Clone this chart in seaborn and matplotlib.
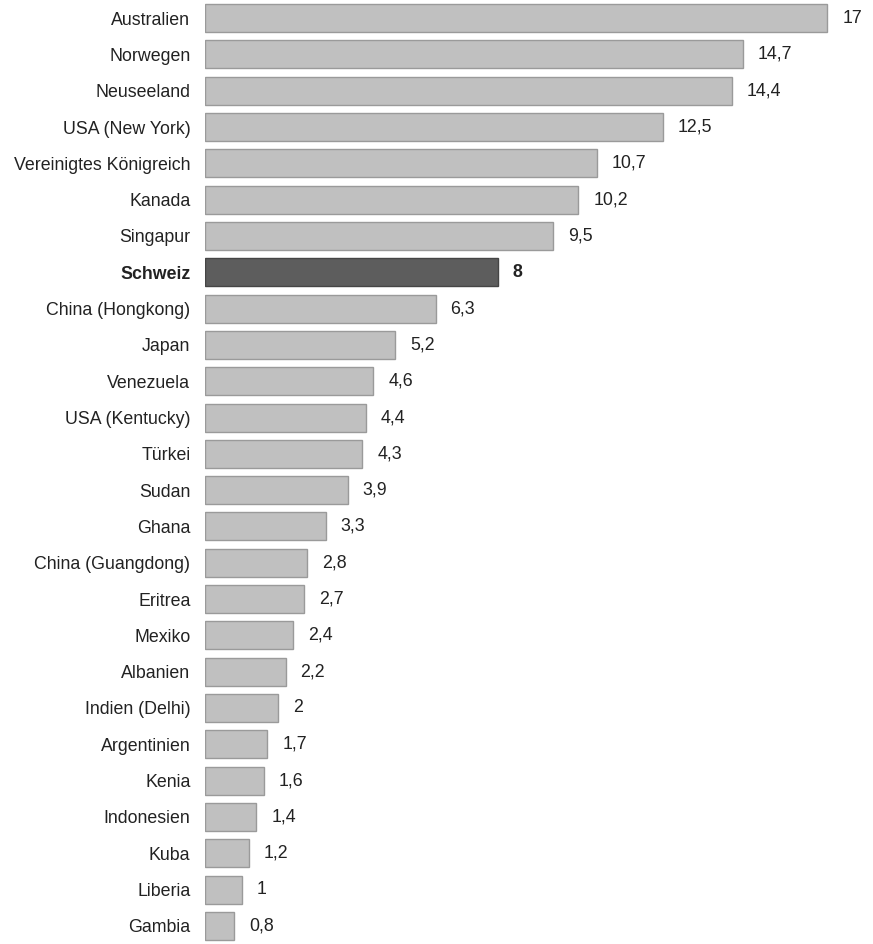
import matplotlib
matplotlib.use("Agg")
import matplotlib.pyplot as plt
import seaborn as sns
import pandas as pd

countries = ["Australien", "Norwegen", "Neuseeland", "USA (New York)", "Vereinigtes Königreich",
             "Kanada", "Singapur", "Schweiz", "China (Hongkong)", "Japan", "Venezuela",
             "USA (Kentucky)", "Türkei", "Sudan", "Ghana", "China (Guangdong)", "Eritrea",
             "Mexiko", "Albanien", "Indien (Delhi)", "Argentinien", "Kenia", "Indonesien",
             "Kuba", "Liberia", "Gambia"]
values = [17, 14.7, 14.4, 12.5, 10.7, 10.2, 9.5, 8, 6.3, 5.2, 4.6, 4.4, 4.3, 3.9, 3.3,
          2.8, 2.7, 2.4, 2.2, 2, 1.7, 1.6, 1.4, 1.2, 1, 0.8]
highlight = "Schweiz"

sns.set_style("white")
plt.rcParams['font.family'] = ['Liberation Sans', 'DejaVu Sans']

df = pd.DataFrame({"land": countries, "wert": values})
palette = {c: ("#5d5d5d" if c == highlight else "#c0c0c0") for c in countries}

fig = plt.figure(figsize=(8.73, 9.44), dpi=100)
ax = fig.add_axes([205 / 873, 0.0, 668 / 873, 1.0])
sns.barplot(data=df, x="wert", y="land", hue="land", palette=palette, legend=False,
            width=0.77, ax=ax, orient="h", saturation=1)

for patch, c in zip(ax.patches, countries):
    patch.set_edgecolor("#454545" if c == highlight else "#9a9a9a")
    patch.set_linewidth(1.0)

ax.set_xlim(0, 668 / 36.6)
ax.set_ylim(25.5, -0.5)
ax.set_xlabel("")
ax.set_ylabel("")
ax.set_xticks([])
for s in ax.spines.values():
    s.set_visible(False)

ax.set_yticks(range(len(countries)))
ax.set_yticklabels(countries, fontsize=12.8, color="#222222")
ax.tick_params(axis="y", length=0, pad=10.5)
for lbl in ax.get_yticklabels():
    if lbl.get_text() == highlight:
        lbl.set_fontweight("bold")

for i, (c, v) in enumerate(zip(countries, values)):
    txt = (f"{v:g}").replace(".", ",")
    ax.annotate(txt, xy=(v, i), xytext=(15, 0), textcoords="offset pixels",
                va="center", ha="left", fontsize=12.8, color="#222222",
                fontweight="bold" if c == highlight else "normal")

fig.savefig("out.png", dpi=100, facecolor="white")
